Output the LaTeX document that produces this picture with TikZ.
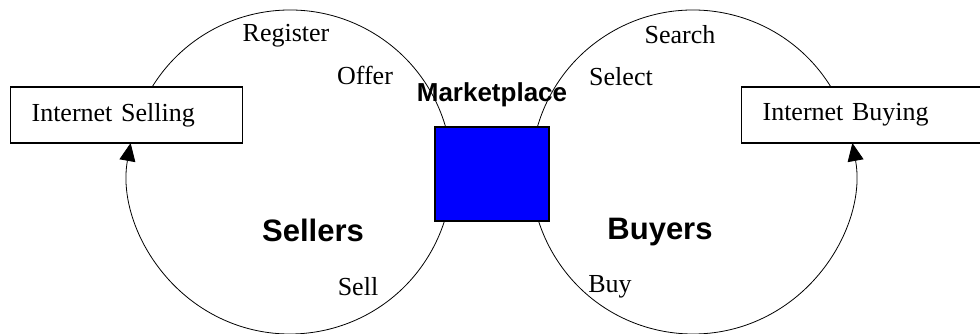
\documentclass[tikz,border=0pt]{standalone}
\usepackage{fontspec}
\setmainfont{Liberation Serif}
\setsansfont{Liberation Sans}
\usetikzlibrary{arrows.meta,positioning,shapes}

\begin{document}
\begin{tikzpicture}[x=1pt,y=1pt,
  lbl/.style={font=\fontsize{26}{30}\selectfont},
  big/.style={font=\sffamily\bfseries\fontsize{31}{36}\selectfont},
  boxed/.style={draw,line width=1.2pt,fill=white,anchor=west,minimum height=56pt,
    inner xsep=21pt,align=left,font=\fontsize{26}{30}\selectfont}]
\useasboundingbox (0,0) rectangle (980,334);
\coordinate (sc) at (290,162);
\coordinate (bc) at (693,162);
\draw[line width=.8pt,-{Triangle[length=18pt,width=16pt]}] (sc) ++(148.35:162) arc[start angle=148.35,end angle=-190.31,radius=162];
\draw[line width=.8pt,-{Triangle[length=18pt,width=16pt]}] (bc) ++(31.65:162) arc[start angle=31.65,end angle=370.31,radius=162];
\node[boxed,text width=190pt] (isell) at (10,219) {Internet Selling};
\node[boxed,text width=218pt] (ibuy) at (741,219) {Internet Buying};
\node[draw,line width=1.2pt,fill=blue,minimum width=114pt,minimum height=94pt] (mkt) at (492,160) {};
\node[font=\sffamily\bfseries\fontsize{26}{30}\selectfont] (mktl) at (492,239) {Marketplace};
\node[lbl] (reg) at (286,298) {Register};
\node[lbl] (off) at (365,259) {Offer};
\node[big] (sellers) at (313,104) {Sellers};
\node[lbl] (sell) at (358,47) {Sell};
\node[lbl] (srch) at (680,299) {Search};
\node[lbl] (sel) at (621,257) {Select};
\node[big] (buyers) at (660,102) {Buyers};
\node[lbl] (buy) at (610,47) {Buy};
\end{tikzpicture}
\end{document}
